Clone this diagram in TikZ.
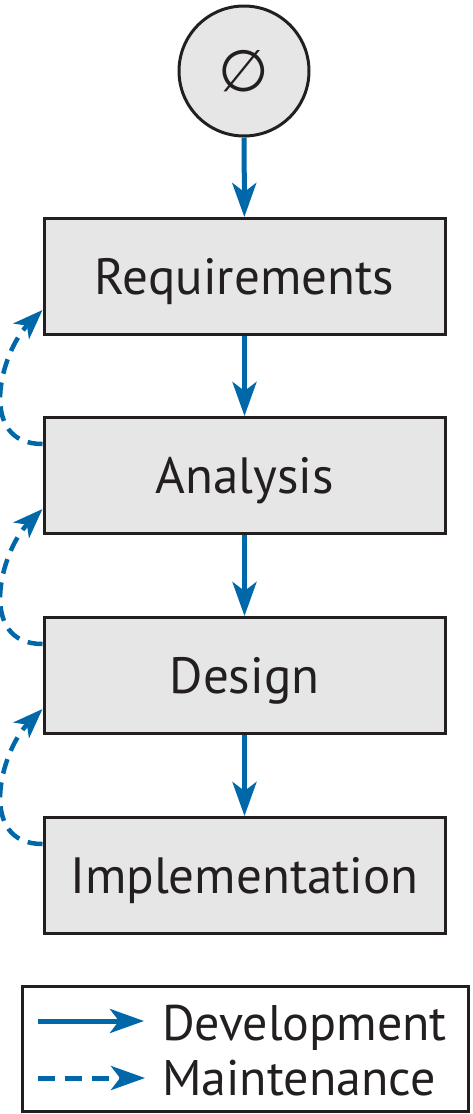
\documentclass[tikz,border=0pt]{standalone}
\usepackage{fontspec}
\setmainfont{PT Sans}
\newfontfamily\symfont{DejaVu Sans}
\usetikzlibrary{arrows.meta,calc}
\definecolor{flowblue}{HTML}{0068A8}
\definecolor{boxgray}{HTML}{E6E6E6}
\definecolor{ink}{HTML}{231F20}
\tikzset{
  stagebox/.style={draw=ink, line width=3pt, fill=boxgray, minimum width=401pt,
    minimum height=116pt, inner sep=0pt, text height=36pt, text depth=0pt,
    font=\fontsize{51}{60}\selectfont, text=ink},
  startcircle/.style={circle, draw=ink, line width=3pt, fill=boxgray,
    minimum size=130pt, inner sep=0pt, text=ink},
  devtip/.tip={Stealth[length=34pt,width=24pt,inset=9pt]},
  devarrow/.style={draw=flowblue, line width=5pt, -{devtip}},
  mntarrow/.style={draw=flowblue, line width=4.5pt, dash pattern=on 15pt off 9pt, -{Stealth[length=30pt,width=22pt,inset=8pt]}},
  legendbox/.style={draw=ink, line width=2.5pt, fill=white, minimum width=446pt,
    minimum height=125pt, inner sep=0pt},
  legendtext/.style={anchor=base west, inner sep=0pt, text=ink,
    font=\fontsize{50}{60}\selectfont},
}
\begin{document}
\begin{tikzpicture}[x=1pt,y=-1pt]
\useasboundingbox (0,0) rectangle (472,1114);
\node[startcircle] (start) at (244,71) {\symfont\fontsize{58}{60}\selectfont ∅};
\node[stagebox] (req) at (244.5,276.5) {Requirements};
\node[stagebox] (ana) at (244.5,475.5) {Analysis};
\node[stagebox] (des) at (244.5,675.5) {Design};
\node[stagebox] (imp) at (244.5,875.5) {Implementation};
\draw[devarrow] (start) -- (req);
\draw[devarrow] (req) -- (ana);
\draw[devarrow] (ana) -- (des);
\draw[devarrow] (des) -- (imp);
\coordinate (m1s) at ($(ana.north west)+(0,28)$);
\coordinate (m1e) at ($(req.south west)+(0,-26)$);
\coordinate (m2s) at ($(des.north west)+(0,28)$);
\coordinate (m2e) at ($(ana.south west)+(0,-26)$);
\coordinate (m3s) at ($(imp.north west)+(0,28)$);
\coordinate (m3e) at ($(des.south west)+(0,-26)$);
\draw[mntarrow] (m1s) .. controls +(-66,0) and +(-42,42) .. (m1e);
\draw[mntarrow] (m2s) .. controls +(-66,0) and +(-42,42) .. (m2e);
\draw[mntarrow] (m3s) .. controls +(-66,0) and +(-42,42) .. (m3e);
\node[legendbox] (leg) at (245.5,1049) {};
\node[legendtext] (devlbl) at (162,1040) {Development};
\node[legendtext] (mntlbl) at (162,1095) {Maintenance};
\coordinate (d1) at (38,1021);
\coordinate (d2) at (144,1021);
\coordinate (n1) at (38,1078);
\coordinate (n2) at (145,1078);
\draw[devarrow] (d1) -- (d2);
\draw[draw=flowblue, line width=5pt, dash pattern=on 17pt off 10pt, -{devtip}] (n1) -- (n2);
\end{tikzpicture}
\end{document}
